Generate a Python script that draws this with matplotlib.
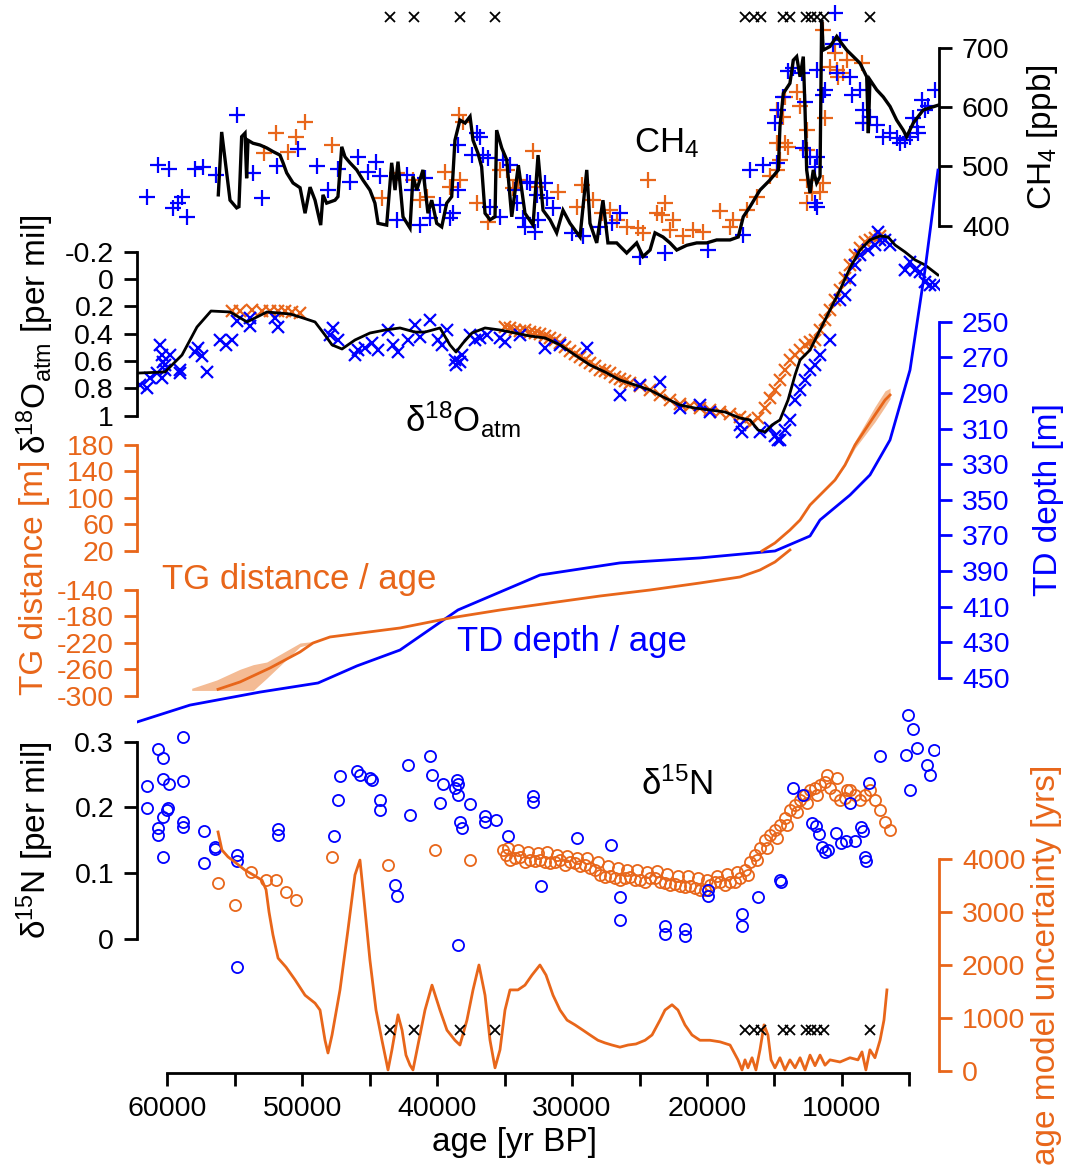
import numpy as np
import matplotlib
matplotlib.use("Agg")
import matplotlib.pyplot as plt

plt.rcParams['font.family'] = ['Liberation Sans', 'DejaVu Sans']
plt.rcParams['mathtext.fontset'] = 'custom'
plt.rcParams['mathtext.rm'] = 'Liberation Sans'
plt.rcParams['mathtext.it'] = 'Liberation Sans:italic'
plt.rcParams['axes.unicode_minus'] = False

ORANGE = '#E8661A'
BLUE = '#0000FF'
SHADE = '#F4BB94'

# ---------------- data ----------------
# tie points (yr BP)
tie_age = [43530, 41720, 38340, 35680, 17200, 16530, 16000, 14400, 13870, 12670, 12270, 11870, 11340, 7940]

# CH4 record (black line)
ch4_age = [56220, 55970, 55600, 55350, 54860, 54690, 54490, 54240, 54120, 54020, 53650, 53130, 52630,
           52170, 51650, 51420, 51150, 50680, 50160, 49790, 49420, 49050, 48630, 48460, 48190, 47570,
           47350, 47070, 46830, 46460, 45960, 45500, 44980, 44610, 44380, 43740, 43370, 43120, 42900,
           42530, 42010, 41790, 41510, 41050, 40680, 40400, 40030, 39660, 39290, 38920, 38680, 38310,
           37930, 37560, 37340, 36970, 36700, 36450, 36080, 35710, 35590, 35210, 34840, 34470, 33980,
           33490, 32890, 32520, 32150, 31630, 31140, 30670, 30150, 29410, 28910, 28670, 28170, 27710,
           27340, 26690, 25950, 25210, 24740, 24220, 23850, 23260, 22740, 22240, 21500, 20760, 20020,
           19280, 18290, 17680, 17310, 16810, 16070, 15330, 14710, 14590, 14340, 13850, 13600, 13350,
           13100, 12860, 12730, 12610, 12360, 12120, 11870, 11620, 11500, 11380, 10880, 10380, 10010,
           9640, 9150, 8660, 8160, 8040, 7920, 7420, 6930, 6430, 5940, 5450, 5200, 4710, 3970, 2880]
ch4_val = [452, 558, 489, 443, 430, 432, 550, 556, 480, 544, 539, 536, 531,
           525, 519, 506, 489, 472, 464, 421, 465, 443, 401, 452, 438, 443,
           449, 533, 516, 506, 494, 477, 460, 438, 404, 401, 506, 460, 508,
           415, 396, 483, 460, 494, 421, 443, 404, 398, 438, 449, 544, 578,
           573, 584, 544, 522, 499, 421, 410, 415, 561, 531, 511, 415, 502,
           421, 401, 519, 426, 410, 388, 426, 404, 381, 494, 404, 371, 443,
           371, 371, 354, 371, 348, 359, 388, 381, 371, 359, 367, 371, 371,
           376, 376, 381, 415, 432, 460, 477, 494, 567, 623, 640, 679, 685,
           651, 685, 595, 494, 455, 494, 472, 483, 747, 696, 702, 719, 707,
           696, 685, 674, 651, 556, 646, 629, 617, 601, 578, 561, 550, 573, 595, 603]

# CH4 discrete samples, core 1 (blue +)
ch4b_age = [61527, 60667, 59852, 59555, 59185, 58933, 58518, 57947, 57332, 56390, 54856, 53626, 52959,
            51891, 50290, 48882, 48067, 47326, 46458, 45843, 45101, 44531, 44234, 42996, 42255, 41884,
            41269, 40899, 40529, 39787, 39046, 38801, 38430, 38430, 37437, 37066, 36822, 36577, 36206,
            36081, 35340, 35095, 34599, 34229, 34103, 33614, 33487, 33363, 32746, 32501, 31987, 31861,
            33116, 32620, 31389, 30026, 29166, 27928, 27061, 26446, 24963, 23110, 19901, 17306, 16810,
            15824, 14831, 14957, 14712, 14342, 13971, 13601, 12978, 12733, 12859, 12362, 11866, 11992,
            11992, 11866, 11866, 11251, 11377, 10510, 10636, 10139, 10385, 9398, 9274, 8657, 8412, 7916,
            8412, 7419, 6929, 6433, 5936, 5692, 5322, 4951, 4454, 4084, 3595, 3098, 4705, 4335, 3840]
ch4b_val = [448, 502, 496, 429, 438, 448, 415, 496, 499, 486, 587, 488, 446,
            501, 529, 501, 461, 496, 474, 516, 491, 508, 484, 410, 486, 460,
            401, 480, 413, 435, 413, 421, 460, 536, 519, 557, 550, 519, 514,
            432, 415, 511, 502, 460, 438, 413, 398, 474, 390, 410, 472, 446,
            472, 452, 429, 387, 382, 398, 404, 421, 348, 354, 359, 384, 494,
            502, 505, 573, 595, 617, 660, 665, 657, 609, 531, 516, 516, 499,
            438, 432, 662, 629, 620, 758, 707, 713, 657, 651, 620, 629, 595, 584,
            573, 570, 550, 556, 547, 539, 544, 550, 567, 612, 601, 629, 581, 556, 595]

# CH4 discrete samples, core 2 (orange +)
ch4o_age = [52810, 51965, 51031, 50483, 49794, 47815, 44109, 42996, 41766, 41270, 40774, 39417, 39046,
            38357, 38061, 38305, 37066, 36206, 35340, 34843, 34354, 33984, 32871, 32619, 31019, 29655,
            29284, 28425, 27802, 27187, 26690, 25949, 25089, 24718, 24348, 23725, 23355, 23110, 22740,
            22496, 21754, 21014, 20273, 19034, 18292, 18048, 17055, 16314, 15328, 14831, 14586, 14831,
            14216, 13971, 14831, 14342, 14216, 13349, 13104, 12608, 12608, 12608, 12608, 12238, 11622,
            11377, 11377, 11251, 10880, 10385, 9896, 9644, 8532, 10510, 10265, 8412]
ch4o_val = [523, 557, 525, 550, 574, 536, 446, 488, 477, 443, 449, 491, 466,
            587, 575, 477, 438, 407, 494, 494, 463, 477, 526, 466, 457, 432,
            469, 443, 421, 427, 410, 398, 396, 387, 477, 421, 418, 438, 393,
            410, 382, 393, 390, 424, 398, 410, 427, 449, 483, 494, 511, 539,
            539, 533, 595, 584, 617, 626, 601, 561, 528, 477, 438, 455, 457,
            472, 730, 581, 668, 662, 657, 679, 674, 691, 651, 573]

# d18O atm (black line = reference record)
d18_age = [62170, 60170, 58910, 57800, 56760, 55350, 54090, 52610, 50900, 50160, 49050, 48310, 47790,
           47050, 46090, 44980, 43860, 42750, 41640, 40900, 39790, 39050, 38600, 38080, 37420, 36450,
           35340, 34230, 33120, 32000, 30890, 29780, 28670, 27560, 26450, 25330, 24220, 23110, 22000,
           20890, 19780, 18660, 17550, 16810, 16220, 15700, 15180, 14590, 13990, 13470, 13100, 12360,
           11620, 10880, 10140, 9400, 8660, 7920, 7170, 6580, 6060, 5320, 4580, 3840, 2880]
d18_val = [0.688, 0.680, 0.556, 0.351, 0.234, 0.241, 0.314, 0.241, 0.256, 0.278, 0.314, 0.410, 0.482,
           0.512, 0.446, 0.395, 0.373, 0.358, 0.388, 0.388, 0.358, 0.482, 0.534, 0.468, 0.395, 0.358,
           0.373, 0.395, 0.417, 0.431, 0.482, 0.556, 0.629, 0.680, 0.739, 0.775, 0.812, 0.870, 0.922,
           0.944, 0.958, 0.973, 1.017, 1.031, 1.104, 1.119, 1.068, 1.031, 0.885, 0.702, 0.592, 0.519,
           0.373, 0.227, 0.080, -0.081, -0.212, -0.286, -0.315, -0.308, -0.249, -0.198, -0.140, -0.103, -0.030]

# d18O atm measurements, core 2 (orange x)
d18o_age = [55200, 54610, 53720, 52980, 52390, 51800, 51280, 50760, 50160,
            34970, 34600, 34230, 33860, 33490, 33120, 32750, 32380, 32000, 31630, 31260, 30890, 30520,
            30150, 29780, 29410, 29040, 28670, 28300, 27930, 27560, 27190, 26820, 26450, 26080, 25700,
            24960, 24220, 23480, 22740, 22000, 21260, 20520, 19780, 19030, 18290, 17550, 17180, 16660,
            16220, 15700, 15330, 14960, 14590, 14220, 13850, 13470, 13100, 12730, 12360, 11990, 11620,
            11250, 10880, 10510, 10140, 9770, 9400, 9030, 8660, 8290, 7920, 7550, 7170]
d18o_val = [0.234, 0.234, 0.227, 0.234, 0.234, 0.234, 0.234, 0.241, 0.248,
            0.351, 0.358, 0.373, 0.380, 0.373, 0.388, 0.395, 0.402, 0.417, 0.431, 0.446, 0.468, 0.497,
            0.526, 0.548, 0.570, 0.592, 0.614, 0.636, 0.665, 0.673, 0.688, 0.717, 0.731, 0.746, 0.761,
            0.783, 0.812, 0.848, 0.885, 0.914, 0.929, 0.944, 0.958, 0.973, 0.987, 1.009, 1.031, 1.053,
            1.017, 0.944, 0.870, 0.812, 0.739, 0.665, 0.592, 0.556, 0.519, 0.482, 0.461, 0.446, 0.373,
            0.300, 0.227, 0.153, 0.080, -0.008, -0.103, -0.176, -0.227, -0.271, -0.286, -0.300, -0.315]

# d18O atm measurements, core 1 (blue x)
d18b_age = [62020, 61500, 61280, 60760, 60540, 60390, 60320, 60390, 60170, 59800, 60170, 59060, 59060,
            57950, 57720, 57430, 57060, 56090, 55650, 55200, 54830, 53870, 53870, 52020, 51800, 47940,
            47720, 47350, 46090, 45870, 45350, 44830, 44380, 43640, 43270, 42900, 42160, 41640, 41270,
            40530, 39940, 39640, 39270, 38680, 38600, 38310, 38160, 37560, 37190, 36820, 36300, 35340,
            34970, 33860, 32000, 30890, 28890, 26450, 24960, 23480, 22000, 20520, 19780, 17550, 17400,
            16070, 15330, 14960, 14740, 14590, 14220, 13850, 13470, 13100, 12730, 12360, 11990, 11620,
            10880, 10140, 9770, 9400, 9030, 8660, 8060, 7550, 7320, 7170, 6800, 6430, 5320, 4950, 4580,
            4210, 3840, 3470, 3100]
d18b_val = [0.775, 0.797, 0.724, 0.688, 0.482, 0.556, 0.607, 0.724, 0.629, 0.556, 0.665, 0.688, 0.665,
            0.534, 0.504, 0.563, 0.680, 0.446, 0.482, 0.446, 0.307, 0.344, 0.285, 0.285, 0.351, 0.410,
            0.358, 0.446, 0.556, 0.519, 0.504, 0.468, 0.519, 0.373, 0.482, 0.534, 0.446, 0.336, 0.424,
            0.300, 0.446, 0.482, 0.373, 0.592, 0.629, 0.607, 0.556, 0.410, 0.446, 0.431, 0.410, 0.431,
            0.461, 0.410, 0.504, 0.482, 0.504, 0.848, 0.775, 0.753, 0.944, 0.922, 0.973, 1.068, 1.119,
            1.119, 1.090, 1.148, 1.178, 1.178, 1.104, 1.031, 0.885, 0.812, 0.739, 0.665, 0.629, 0.556,
            0.446, 0.153, 0.117, 0.007, -0.103, -0.176, -0.212, -0.249, -0.344, -0.286, -0.286, -0.249,
            -0.066, -0.125, -0.066, -0.051, 0.022, 0.044, 0.044]

# TD depth / age
td_age = [62246, 58317, 53129, 48830, 45939, 42752, 38453, 32375, 26446, 20516, 14957, 12363, 11622,
          9398, 7916, 6433, 4950, 3839, 2876]
td_depth = [474.7, 465.2, 457.9, 452.8, 443.2, 434.3, 411.8, 392.2, 385.4, 382.6, 378.7, 370.3, 361.3,
            347.3, 336.0, 316.4, 277.1, 221.0, 164.9]

# TG distance / age, deep part (lower axis)
tgl_age = [56240, 54610, 52390, 50160, 49200, 47940, 42750, 39050, 35340, 31630, 27930, 24220, 20520,
           17550, 16070, 14960, 13850]
tgl_dist = [-290.3, -279.2, -258.1, -233.8, -220.2, -211.1, -197.5, -182.4, -170.3, -159.6, -149.1,
            -140.0, -129.4, -120.3, -109.7, -97.6, -79.4]
tgl_band_age = [58190, 56340, 54610, 53630, 52630, 50160, 49200]
tgl_band_hi = [-288.8, -276.2, -260.0, -253.0, -249.0, -220.2, -218.0]
tgl_band_lo = [-292.0, -292.0, -292.0, -292.0, -273.6, -225.8, -221.0]

# TG distance / age, upper part (upper axis)
tgu_age = [15920, 14960, 13850, 13100, 12360, 11620, 10510, 9770, 9030, 8290, 7550, 6800, 6430]
tgu_dist = [19.6, 31.7, 51.3, 66.5, 89.2, 104.3, 127.0, 149.7, 180.0, 202.7, 225.4, 248.1, 255.7]
tgu_hi = [19.6, 31.7, 51.3, 66.5, 89.2, 104.3, 127.0, 152.0, 186.0, 212.0, 238.0, 262.0, 266.0]
tgu_lo = [19.6, 31.7, 51.3, 66.5, 89.2, 104.3, 127.0, 148.0, 175.0, 195.0, 215.0, 238.0, 250.0]

# d15N, core 1 (blue o)
n15b_age = [61530, 61530, 60670, 60300, 60300, 59870, 59930, 60040, 60300, 60670, 60670, 60300, 58860,
            58860, 58860, 58860, 57280, 56460, 56460, 57280, 54860, 54860, 51770, 51770, 54860, 47640,
            47350, 47200, 45940, 45720, 44980, 44830, 44230, 44230, 43120, 42970, 42160, 42010, 40530,
            40380, 39790, 39560, 38680, 38530, 38450, 38450, 38310, 38160, 38450, 37560, 36450, 36450,
            35640, 34750, 32890, 32890, 32300, 29630, 27110, 26450, 26450, 23110, 23110, 21630, 21630,
            19920, 19920, 17400, 17400, 16220, 14590, 14510, 13620, 12880, 12210, 11920, 11700, 11470,
            11250, 11030, 10430, 10070, 9690, 9400, 9030, 8580, 8430, 8290, 8210, 7990, 7170, 5100,
            4730, 4430, 5250, 4950, 3690, 3170, 3470]
n15b_val = [0.233, 0.199, 0.289, 0.275, 0.243, 0.236, 0.199, 0.196, 0.186, 0.169, 0.158, 0.125, 0.307,
            0.240, 0.178, 0.171, 0.164, 0.140, 0.137, 0.116, 0.128, 0.119, 0.167, 0.158, -0.042, 0.157,
            0.211, 0.248, 0.255, 0.249, 0.245, 0.242, 0.211, 0.196, 0.082, 0.066, 0.265, 0.189, 0.278,
            0.249, 0.207, 0.236, 0.230, 0.242, 0.236, 0.219, 0.178, 0.169, -0.009, 0.205, 0.187, 0.178,
            0.181, 0.157, 0.217, 0.208, 0.081, 0.154, 0.143, 0.064, 0.029, 0.020, 0.008, 0.015, 0.005,
            0.075, 0.066, 0.038, 0.020, 0.064, 0.090, 0.087, 0.230, 0.219, 0.176, 0.172, 0.160, 0.140,
            0.132, 0.135, 0.161, 0.146, 0.149, 0.207, 0.149, 0.170, 0.164, 0.125, 0.119, 0.237, 0.278,
            0.341, 0.320, 0.290, 0.280, 0.227, 0.265, 0.288, 0.249]

# d15N, core 2 (orange o)
n15o_age = [56220, 54980, 53820, 52710, 51970, 51220, 50480, 47790, 43640, 40160, 37560,
            35120, 34890, 34600, 34230, 33860, 33490, 33120, 32750, 32380, 32000, 31630, 31260, 30890,
            30520, 30150, 29780, 29410, 29040, 28670, 28300, 27930, 27560, 27190, 26820, 26450, 26080,
            25700, 25330, 24960, 24590, 24220, 23850, 23480, 23110, 22740, 22370, 22000, 21630, 21260,
            20890, 20520, 20150, 19780, 19410, 19030, 18660, 18290, 17920, 17550, 17180, 16810, 16440,
            16070, 15700, 15330, 14960, 14590, 14220, 13850, 13470, 13100, 12730, 12360, 11990, 11620,
            11250, 10880, 10510, 10140, 9770, 9400, 9030, 8660, 8290, 7920, 7550, 7170, 6800, 6430,
            34780, 34040, 33300, 32560, 31820, 31080, 30340, 29600, 28860, 28110, 27370, 26630, 25890,
            25150, 24410, 23670, 22930, 22180, 21440, 20700, 19960, 19220, 18480, 17740,
            16960, 16290, 15550, 14810, 14070, 13330, 12590, 11840, 11100, 10360, 9620]
n15o_val = [0.085, 0.052, 0.102, 0.090, 0.090, 0.071, 0.059, 0.125, 0.113, 0.135, 0.120,
            0.135, 0.128, 0.120, 0.123, 0.125, 0.117, 0.120, 0.119, 0.120, 0.117, 0.116, 0.117, 0.120,
            0.113, 0.117, 0.116, 0.111, 0.113, 0.108, 0.105, 0.097, 0.094, 0.096, 0.093, 0.090, 0.093,
            0.094, 0.090, 0.090, 0.087, 0.093, 0.093, 0.087, 0.085, 0.082, 0.084, 0.081, 0.079, 0.081,
            0.078, 0.075, 0.075, 0.082, 0.087, 0.087, 0.082, 0.087, 0.087, 0.093, 0.105, 0.117, 0.128,
            0.138, 0.151, 0.158, 0.166, 0.173, 0.184, 0.196, 0.204, 0.211, 0.219, 0.227, 0.230, 0.234,
            0.239, 0.230, 0.219, 0.211, 0.214, 0.227, 0.219, 0.211, 0.219, 0.227, 0.211, 0.196, 0.178, 0.166,
            0.138, 0.135, 0.132, 0.131, 0.132, 0.128, 0.126, 0.123, 0.123, 0.117, 0.111, 0.108, 0.105,
            0.105, 0.102, 0.104, 0.099, 0.096, 0.096, 0.093, 0.090, 0.096, 0.099, 0.102,
            0.097, 0.120, 0.138, 0.154, 0.173, 0.193, 0.207, 0.219, 0.249, 0.245, 0.227]

# age model uncertainty
unc_age = [56240, 55950, 55500, 54980, 54240, 53500, 52980, 52680, 52460, 52170, 51790, 51200, 50530,
           49790, 49050, 48680, 48310, 48090, 47790, 47200, 46610, 46090, 45720, 45420, 44980, 44530,
           44090, 43790, 43640, 43350, 42900, 42600, 42310, 42010, 41790, 41420, 40900, 40380, 39790,
           39270, 38680, 38310, 37790, 37340, 36900, 36450, 36080, 35710, 35340, 34970, 34600, 34010,
           33490, 32970, 32380, 31930, 31410, 30890, 30370, 29780, 29190, 28670, 28080, 27560, 27040,
           26450, 25850, 25260, 24590, 24070, 23480, 23110, 22590, 22150, 21630, 21110, 20520, 19780,
           19030, 18290, 17700, 17400, 17180, 16960, 16660, 16370, 16070, 15770, 15480, 15250, 14960,
           14590, 14220, 13850, 13470, 13100, 12730, 12360, 11990, 11620, 11250, 10880, 10140, 9400,
           8810, 8510, 8220, 7920, 7550, 7170, 6880, 6660]
unc_val = [4510, 4170, 4040, 3940, 3790, 3680, 3600, 3420, 3000, 2570, 2130, 1960, 1720,
           1430, 1280, 1150, 580, 340, 680, 1530, 2660, 3700, 3980, 3230, 2090, 1150,
           580, 210, 20, 400, 1060, 770, 300, 110, 20, 490, 1150, 1620, 1150,
           770, 580, 490, 960, 1530, 2000, 1430, 580, 60, 400, 1150, 1530, 1530,
           1620, 1810, 2000, 1810, 1430, 1150, 960, 870, 770, 680, 580, 530, 490,
           450, 490, 510, 580, 680, 960, 1150, 1250, 1150, 870, 680, 580, 580,
           550, 490, 210, 20, 210, 60, 250, 20, 400, 870, 680, 210, 60,
           250, 20, 210, 60, 250, 20, 300, 100, 300, 110, 210, 170, 250,
           210, 360, 20, 400, 250, 580, 960, 1530]

# ---------------- layout ----------------
W, H = 1070, 1169
L, R = 137, 939
fig = plt.figure(figsize=(W / 100, H / 100), dpi=100)


def panel(p1, v1, p2, v2):
    # axes covering the whole figure height; value v1 sits at pixel row p1, v2 at p2
    ax = fig.add_axes([L / W, 0, (R - L) / W, 1])
    s = (v2 - v1) / (p2 - p1)
    ax.set_ylim(v1 + (H - p1) * s, v1 - p1 * s)
    ax.set_xlim(62246, 2801)
    ax.patch.set_visible(False)
    for sp in ax.spines.values():
        sp.set_visible(False)
    ax.set_xticks([])
    ax.set_yticks([])
    return ax


def yaxis(ax, side, ticks, labels, color):
    sp = ax.spines[side]
    sp.set_visible(True)
    sp.set_bounds(min(ticks), max(ticks))
    sp.set_color(color)
    sp.set_linewidth(2)
    ax.yaxis.set_ticks_position(side)
    ax.set_yticks(ticks)
    ax.set_yticklabels(labels)
    ax.tick_params(axis='y', colors=color, length=9.5, width=2, labelsize=20.5, pad=7)


def ftext(x, y, s, **kw):
    fig.text(x / W, 1 - y / H, s, **kw)


ax_ch4 = panel(47.7, 700, 225.7, 400)
ax_d18 = panel(251.7, -0.2, 415.7, 1.0)
ax_td = panel(321.7, 250, 678.0, 450)
ax_tgu = panel(445.0, 180, 550.7, 20)
ax_tgl = panel(590.0, -140, 695.7, -300)
ax_n15 = panel(741.7, 0.3, 939.0, 0.0)
ax_unc = panel(859.0, 4000, 1071.0, 0)

yaxis(ax_ch4, 'right', [400, 500, 600, 700], ['400', '500', '600', '700'], 'black')
yaxis(ax_d18, 'left', [-0.2, 0, 0.2, 0.4, 0.6, 0.8, 1.0], ['-0.2', '0', '0.2', '0.4', '0.6', '0.8', '1'], 'black')
yaxis(ax_td, 'right', list(range(250, 451, 20)), [str(v) for v in range(250, 451, 20)], BLUE)
yaxis(ax_tgu, 'left', [20, 60, 100, 140, 180], ['20', '60', '100', '140', '180'], ORANGE)
yaxis(ax_tgl, 'left', [-300, -260, -220, -180, -140], ['-300', '-260', '-220', '-180', '-140'], ORANGE)
yaxis(ax_n15, 'left', [0, 0.1, 0.2, 0.3], ['0', '0.1', '0.2', '0.3'], 'black')
yaxis(ax_unc, 'right', [0, 1000, 2000, 3000, 4000], ['0', '1000', '2000', '3000', '4000'], ORANGE)

# bottom age axis
sp = ax_unc.spines['bottom']
sp.set_visible(True)
sp.set_position(('axes', 1 - 1072.7 / H))
sp.set_bounds(5000, 60000)
sp.set_linewidth(2)
xt = list(range(60000, 4999, -5000))
ax_unc.set_xticks(xt)
ax_unc.set_xticklabels([str(v) if v % 10000 == 0 else '' for v in xt])
ax_unc.tick_params(axis='x', length=9.5, width=2, labelsize=20.5, pad=7)

# ---------------- marks ----------------
mk = dict(linestyle='none', mew=1.6)
ax_ch4.plot(ch4o_age, ch4o_val, marker='+', ms=11, color=ORANGE, **mk)
ax_ch4.plot(ch4b_age, ch4b_val, marker='+', ms=11, color=BLUE, **mk)
ax_ch4.plot(ch4_age, ch4_val, color='black', lw=2.4, solid_joinstyle='miter')

ax_d18.plot(d18o_age, d18o_val, marker='x', ms=8, color=ORANGE, **mk)
ax_d18.plot(d18b_age, d18b_val, marker='x', ms=8, color=BLUE, **mk)
ax_d18.plot(d18_age, d18_val, color='black', lw=2)

ax_tgl.fill_between(tgl_band_age, tgl_band_lo, tgl_band_hi, color=SHADE, lw=0)
ax_tgl.plot(tgl_age, tgl_dist, color=ORANGE, lw=2)
ax_tgu.fill_between(tgu_age, tgu_lo, tgu_hi, color=SHADE, lw=0)
ax_tgu.plot(tgu_age, tgu_dist, color=ORANGE, lw=2)
ax_td.plot(td_age, td_depth, color=BLUE, lw=2)

ax_n15.plot(n15o_age, n15o_val, marker='o', ms=8, mfc='none', color=ORANGE, linestyle='none', mew=1.3)
ax_n15.plot(n15b_age, n15b_val, marker='o', ms=8, mfc='none', color=BLUE, linestyle='none', mew=1.3)
ax_unc.plot(unc_age, unc_val, color=ORANGE, lw=2)

# tie points, drawn at the top and bottom of the figure
for ax, yfrac in [(ax_ch4, 1 - 17 / H), (ax_unc, 1 - 1030 / H)]:
    ax.plot(tie_age, [yfrac] * len(tie_age), transform=ax.get_xaxis_transform(),
            marker='x', ms=7, mew=1.3, color='black', linestyle='none')

# ---------------- text ----------------
lab = dict(fontsize=24, rotation=90, ha='center', va='center')
ftext(1043, 137, 'CH$_4$ [ppb]', color='black', **lab)
ftext(1048, 500, 'TD depth [m]', color=BLUE, **lab)
ftext(1047, 965, 'age model uncertainty [yrs]', color=ORANGE, **lab)
ftext(35, 334, 'δ$^{18}$O$_{\\rm atm}$ [per mil]', color='black', **lab)
ftext(35, 577, 'TG distance [m]', color=ORANGE, **lab)
ftext(35, 840, 'δ$^{15}$N [per mil]', color='black', **lab)
ftext(515, 1143, 'age [yr BP]', fontsize=24, ha='center', va='center')

ftext(667, 143, 'CH$_4$', fontsize=25, ha='center', va='center')
ftext(463, 420, 'δ$^{18}$O$_{\\rm atm}$', fontsize=25, ha='center', va='center')
ftext(677, 785, 'δ$^{15}$N', fontsize=25, ha='center', va='center')
ftext(162, 580, 'TG distance / age', fontsize=25, color=ORANGE, ha='left', va='center')
ftext(457, 642, 'TD depth / age', fontsize=25, color=BLUE, ha='left', va='center')

fig.savefig('out.png', dpi=100)
